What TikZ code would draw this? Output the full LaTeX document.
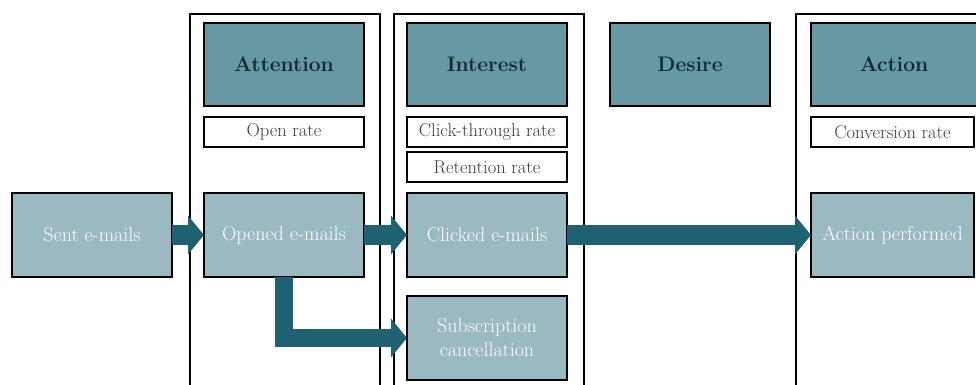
\documentclass[tikz,border=0pt]{standalone}
\usetikzlibrary{arrows.meta}
\definecolor{hdrfill}{RGB}{104,152,163}
\definecolor{boxfill}{RGB}{154,185,193}
\definecolor{flowcol}{RGB}{30,98,114}
\definecolor{hdrtext}{RGB}{14,42,52}
\definecolor{ratetext}{RGB}{60,60,60}
\tikzset{
  frame/.style={draw=black, line width=1.8pt},
  hdr/.style={draw=black, line width=1.8pt, fill=hdrfill, anchor=north west,
    minimum width=160pt, minimum height=83pt, inner sep=0pt, outer sep=0pt,
    text=hdrtext, font=\fontsize{21}{24}\selectfont\bfseries},
  rate/.style={draw=black, line width=1.8pt, fill=white, anchor=north west,
    minimum width=160pt, minimum height=30pt, inner sep=0pt, outer sep=0pt,
    text=ratetext, font=\fontsize{18.5}{20}\selectfont},
  stage/.style={draw=black, line width=1.8pt, fill=boxfill, anchor=north west,
    minimum width=160pt, minimum height=84pt, inner sep=0pt, outer sep=0pt,
    text=white, align=center, font=\fontsize{20}{24}\selectfont},
  flow/.style={draw=flowcol, line width=20pt, line join=miter,
    -{Triangle[length=16pt, width=38pt]}},
}
\begin{document}
\begin{tikzpicture}[x=1pt, y=-1pt]
\useasboundingbox (0,0) rectangle (976,385);
\clip (0,0) rectangle (976,385);
\fill[white] (0,0) rectangle (976,385);

% column frames, open at the bottom
\draw[frame] (190,14) rectangle (380,400);
\draw[frame] (394,14) rectangle (584,400);
\draw[frame] (796,14) rectangle (1000,400);

% stage headers
\node[hdr] (att) at (204,23) {Attention};
\node[hdr] (int) at (407,23) {Interest};
\node[hdr] (des) at (610,23) {Desire};
\node[hdr, minimum width=166pt] (act) at (811,23) {Action};

% metrics
\node[rate] (open) at (204,117) {Open rate};
\node[rate] (ctr) at (407,117) {Click-through rate};
\node[rate] (ret) at (407,152) {Retention rate};
\node[rate, minimum width=163pt] (conv) at (811,117) {Conversion rate};

% e-mail funnel
\node[stage] (sent) at (12,193) {Sent e-mails};
\node[stage] (opened) at (204,193) {Opened e-mails};
\node[stage] (clicked) at (407,193) {Clicked e-mails};
\node[stage] (cancel) at (407,296) {Subscription\\cancellation};
\node[stage, minimum width=163pt] (done) at (811,193) {Action performed};

% flows
\draw[flow] (sent.east) -- (opened.west);
\draw[flow] (opened.east) -- (clicked.west);
\draw[flow] (clicked.east) -- (done.west);
\draw[flow, line width=18pt] (opened.south) |- (cancel.west);
\end{tikzpicture}
\end{document}
